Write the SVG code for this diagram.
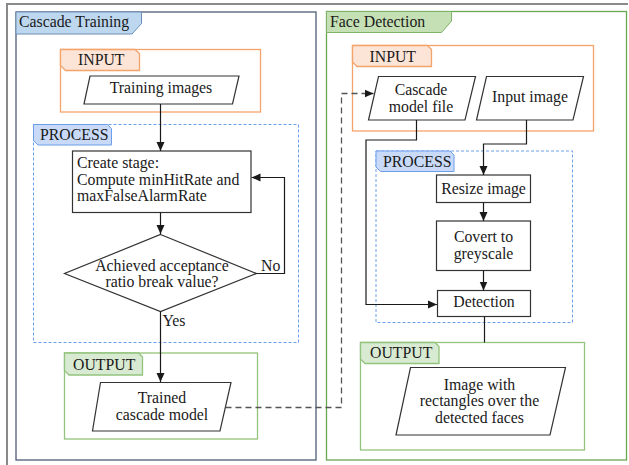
<svg xmlns="http://www.w3.org/2000/svg" width="629" height="465" viewBox="0 0 629 465">
<style>
text{font-family:"Liberation Serif","Times New Roman",serif;font-size:15.8px;fill:#1a1a1a}
.c{text-anchor:middle}
.shape{fill:#fff;stroke:#333;stroke-width:1.2}
.in{fill:none;stroke:#f4a36a;stroke-width:1.3}
.intab{fill:#fce4d6;stroke:#f4a36a;stroke-width:1.3}
.pr{fill:none;stroke:#6d9eeb;stroke-width:1;stroke-dasharray:3,2}
.prtab{fill:#c9daf8;stroke:#6d9eeb;stroke-width:1}
.out{fill:none;stroke:#93c47d;stroke-width:1.3}
.outtab{fill:#d9ead3;stroke:#93c47d;stroke-width:1.3}
.conn{fill:none;stroke:#1a1a1a;stroke-width:1.2}
.dash{fill:none;stroke:#555;stroke-width:1.3;stroke-dasharray:6,4}
</style>
<defs>
<marker id="ah" markerWidth="10" markerHeight="10" refX="9" refY="5" orient="auto" markerUnits="userSpaceOnUse">
<path d="M0,1 L9,5 L0,9 Z" fill="#1a1a1a"/>
</marker>
</defs>
<rect width="629" height="465" fill="#fff"/>
<path d="M7,465 V4 H628" fill="none" stroke="#8a8a8a" stroke-width="2"/>

<g id="cascade-training">
<rect x="16" y="12" width="300" height="448" fill="none" stroke="#4e5d75" stroke-width="1.3"/>
<path d="M16,12 H141.5 V23.5 L132,34 H16 Z" fill="#bdd7ee" stroke="#6f8fb8" stroke-width="1"/>
<text x="19" y="27">Cascade Training</text>
</g>

<g id="ct-input">
<rect x="60.5" y="49.5" width="200" height="62.5" class="in"/>
<path d="M60.5,49.5 H135 L139.5,53.5 V70.5 H65.5 L60.5,65.5 Z" class="intab"/>
<text x="78" y="65">INPUT</text>
</g>

<g id="training-images">
<path d="M90,76 H239 L232.5,104 H84 Z" class="shape"/>
<text x="161" y="93" class="c">Training images</text>
</g>

<g id="ct-process">
<rect x="33.5" y="124.5" width="265" height="218" class="pr"/>
<path d="M33.5,124.5 H107.5 L111.5,128.5 V145 H38 L33.5,140.5 Z" class="prtab"/>
<text x="40" y="140">PROCESS</text>
</g>

<g id="create-stage">
<rect x="72.5" y="151" width="178.5" height="61.5" class="shape"/>
<text x="77" y="168">Create stage:</text>
<text x="77" y="184.5">Compute minHitRate and</text>
<text x="77" y="201">maxFalseAlarmRate</text>
</g>

<g id="decision">
<path d="M160.5,234.5 L256.5,273.5 L160.5,311.5 L64.5,273.5 Z" class="shape"/>
<text x="162" y="271" class="c">Achieved acceptance</text>
<text x="162" y="287" class="c">ratio break value?</text>
</g>

<g id="ct-output">
<rect x="64.5" y="353" width="193" height="86" class="out"/>
<path d="M64.5,353 H138.5 L142.5,357 V375 H69 L64.5,370.5 Z" class="outtab"/>
<text x="73" y="369.5">OUTPUT</text>
</g>

<g id="trained-model">
<path d="M100.5,382.5 H231 L220,431 H92.5 Z" class="shape"/>
<text x="162" y="403" class="c">Trained</text>
<text x="162" y="419.5" class="c">cascade model</text>
</g>

<g id="face-detection">
<rect x="326.5" y="11.5" width="300" height="448.5" fill="none" stroke="#6aa84f" stroke-width="1.3"/>
<path d="M326.5,11.5 H451.5 V21 L441.5,32.5 H326.5 Z" fill="#c5e0b4" stroke="#7fb36a" stroke-width="1"/>
<text x="330" y="27">Face Detection</text>
</g>

<g id="fd-input">
<rect x="352.5" y="45.5" width="241" height="85.5" class="in"/>
<path d="M352.5,45.5 H427.5 L431.5,49.5 V66.5 H357 L352.5,62 Z" class="intab"/>
<text x="369.5" y="62">INPUT</text>
</g>

<g id="cascade-file">
<path d="M378.5,76.5 H475.5 L465,120 H368.5 Z" class="shape"/>
<text x="421" y="95" class="c">Cascade</text>
<text x="421" y="111.5" class="c">model file</text>
</g>

<g id="input-image">
<path d="M486.5,76.5 H583.5 L573,120 H476.5 Z" class="shape"/>
<text x="530" y="102" class="c">Input image</text>
</g>

<g id="fd-process">
<rect x="376" y="151" width="196.5" height="171.5" class="pr"/>
<path d="M376,151 H450 L454,155 V171.5 H380.5 L376,167 Z" class="prtab"/>
<text x="383" y="167">PROCESS</text>
</g>

<g id="resize">
<rect x="436.5" y="175" width="94" height="27.5" class="shape"/>
<text x="483.5" y="193.5" class="c">Resize image</text>
</g>

<g id="convert">
<rect x="436.5" y="221" width="94" height="49.5" class="shape"/>
<text x="483.5" y="242" class="c">Covert to</text>
<text x="483.5" y="258.5" class="c">greyscale</text>
</g>

<g id="detection">
<rect x="437.5" y="290.5" width="93" height="26" class="shape"/>
<text x="484" y="306.5" class="c">Detection</text>
</g>

<g id="fd-output">
<rect x="360.5" y="342.5" width="224" height="107.5" class="out"/>
<path d="M360.5,342.5 H435 L439,346.5 V363.5 H365 L360.5,359 Z" class="outtab"/>
<text x="370" y="358">OUTPUT</text>
</g>

<g id="result-image">
<path d="M410.5,367.5 H565.5 L550,435 H396 Z" class="shape"/>
<text x="479.5" y="389.5" class="c">Image with</text>
<text x="479.5" y="406" class="c">rectangles over the</text>
<text x="479.5" y="422.5" class="c">detected faces</text>
</g>

<g id="connectors">
<path d="M160.5,104 V151" class="conn" marker-end="url(#ah)"/>
<path d="M160.5,212.5 V234" class="conn" marker-end="url(#ah)"/>
<path d="M256.5,273.5 H284.5 V177.5 H251.5" class="conn" marker-end="url(#ah)"/>
<text x="261" y="271">No</text>
<path d="M160.5,311.5 V382" class="conn" marker-end="url(#ah)"/>
<text x="162.5" y="325.5">Yes</text>
<path d="M225.5,407.5 H341.5 V93.5 H373.5" class="dash" marker-end="url(#ah)"/>
<path d="M416.5,120 V140 H366 V304.5 H437" class="conn" marker-end="url(#ah)"/>
<path d="M526.5,120 V144 H483.5 V175" class="conn" stroke="#444" marker-end="url(#ah)"/>
<path d="M483.5,202.5 V221" class="conn" marker-end="url(#ah)"/>
<path d="M483.5,270.5 V290.5" class="conn" marker-end="url(#ah)"/>
<path d="M484.5,316.5 V342.5" class="conn"/>
</g>
</svg>
